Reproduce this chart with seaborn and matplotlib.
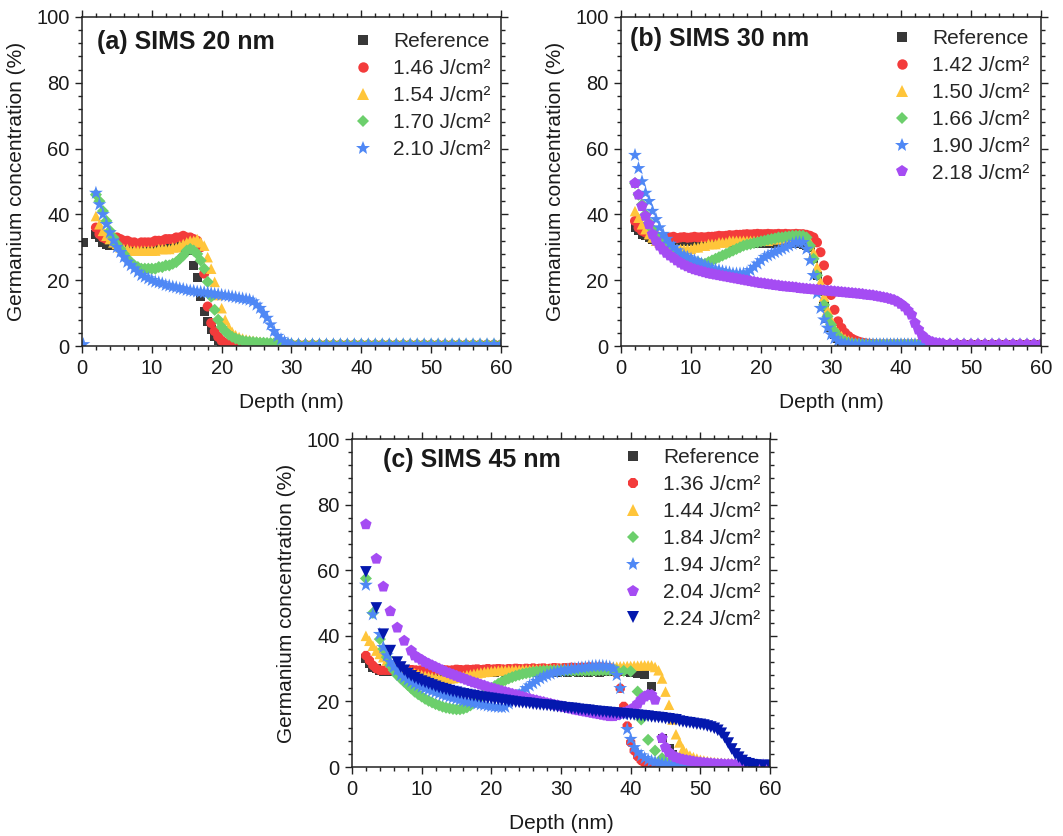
import numpy as np
import pandas as pd
import matplotlib
matplotlib.use("Agg")
import matplotlib.pyplot as plt
from matplotlib.lines import Line2D
from matplotlib.ticker import MultipleLocator
import seaborn as sns

nan = np.nan

# ---------------- Panel (a): SIMS 20 nm ----------------
DEPTH_A = [0.2,
    2.0, 2.5, 3.0, 3.5, 4.0, 4.5, 5.0, 5.5, 6.0, 6.5,
    7.0, 7.5, 8.0, 8.5, 9.0, 9.5, 10.0, 10.5, 11.0, 11.5,
    12.0, 12.5, 13.0, 13.5, 14.0, 14.5, 15.0, 15.5, 16.0, 16.5,
    17.0, 17.5, 18.0, 18.5, 19.0, 19.5, 20.0, 20.5, 21.0, 21.5,
    22.0, 22.5, 23.0, 23.5, 24.0, 24.5, 25.0, 25.5, 26.0, 26.5,
    27.0, 27.5, 28.0, 28.5, 29.0, 29.5, 30.0,
    31, 32, 33, 34, 35, 36, 37, 38, 39, 40,
    41, 42, 43, 44, 45, 46, 47, 48, 49, 50,
    51, 52, 53, 54, 55, 56, 57, 58, 59, 60]
LABELS_A = ["Reference", "1.46 J/cm²", "1.54 J/cm²", "1.70 J/cm²", "2.10 J/cm²"]
REF_A = [31.5,
    34, 33, 31.5, 31, 30.5, 30.5, 30.5, 30.5, 30.5, 30.5,
    30.5, 30.5, 30.5, 30.5, 30.5, 30.5, 30.5, 30.5, 30.5, 30.5,
    30.5, 30.5, 30.5, 30.5, 30.5, 30, 29.5, 29, 24.5, 20.7,
    15, 10.5, 7.5, 5, 3, 1.8, 1, 0.5, 0.3, 0.3,
    0.3, 0.3, 0.3, 0.3, 0.3, 0.3, 0.3, 0.3, 0.3, 0.3,
    0.3, 0.3, 0.3, 0.3, 0.3, 0.3, 0.3,
    0.3, 0.3, 0.3, 0.3, 0.3, 0.3, 0.3, 0.3, 0.3, 0.3,
    0.3, 0.3, 0.3, 0.3, 0.3, 0.3, 0.3, 0.3, 0.3, 0.3,
    0.3, 0.3, 0.3, 0.3, 0.3, 0.3, 0.3, 0.3, 0.3, 0.3]
F146_A = [nan,
    36, 34, 33, 32.5, 32.5, 32.5, 33, 32.5, 32, 32,
    31.5, 31.5, 31, 31.5, 31.5, 31.5, 31.5, 32, 32, 32,
    32.5, 32.5, 32.5, 33, 33, 33.5, 33, 33, 32.5, 32,
    30, 22, 12, 7, 4.5, 2.8, 1.6, 0.9, 0.5, 0.4,
    0.4, 0.4, 0.4, 0.4, 0.4, 0.4, 0.4, 0.4, 0.4, 0.4,
    0.4, 0.4, 0.4, 0.4, 0.4, 0.4, 0.4,
    0.4, 0.4, 0.4, 0.4, 0.4, 0.4, 0.4, 0.4, 0.4, 0.4,
    0.4, 0.4, 0.4, 0.4, 0.4, 0.4, 0.4, 0.4, 0.4, 0.4,
    0.4, 0.4, 0.4, 0.4, 0.4, 0.4, 0.4, 0.4, 0.4, 0.4]
F154_A = [nan,
    39.5, 37, 35, 33.5, 32.5, 31.5, 31, 30, 29.5, 29.5,
    29, 29, 29, 29, 29, 29, 29, 29, 29.5, 29.5,
    29.5, 29.5, 30, 30, 30.5, 31, 31.5, 32, 32, 32.5,
    31.5, 30.5, 27, 23.5, 19.5, 15.5, 11.5, 8, 5.8, 4.3,
    3.3, 2.7, 2.3, 2, 1.8, 1.6, 1.4, 1.3, 1.1, 1,
    0.9, 0.8, 0.7, 0.7, 0.6, 0.6, 0.6,
    0.6, 0.6, 0.6, 0.6, 0.6, 0.6, 0.6, 0.6, 0.6, 0.6,
    0.6, 0.6, 0.6, 0.6, 0.6, 0.6, 0.6, 0.6, 0.6, 0.6,
    0.6, 0.6, 0.6, 0.6, 0.6, 0.6, 0.6, 0.6, 0.6, 0.6]
F170_A = [nan,
    46, 44, 41, 38, 35, 33, 31, 29.5, 28, 26.5,
    25.5, 24.5, 24, 23.5, 23.5, 23.5, 23.5, 23.5, 24, 24,
    24.5, 24.5, 25, 25.5, 26.5, 27.5, 29, 29.5, 29, 28,
    26, 23.5, 19.5, 15, 11, 8, 5.8, 4.5, 3.5, 2.8,
    2.3, 1.9, 1.6, 1.4, 1.3, 1.2, 1.1, 1, 1, 0.9,
    0.9, 0.8, 0.8, 0.7, 0.7, 0.6, 0.6,
    0.5, 0.5, 0.5, 0.5, 0.5, 0.5, 0.5, 0.5, 0.5, 0.5,
    0.5, 0.5, 0.5, 0.5, 0.5, 0.5, 0.5, 0.5, 0.5, 0.5,
    0.5, 0.5, 0.5, 0.5, 0.5, 0.5, 0.5, 0.5, 0.5, 0.5]
F210_A = [0.5,
    46.5, 43, 40, 37, 34.5, 32, 30, 28.5, 27, 25.5,
    24.5, 23.5, 22.5, 21.5, 21, 20.5, 20, 19.5, 19.3, 19,
    18.5, 18.3, 18, 17.8, 17.5, 17.3, 17, 16.8, 16.7, 16.5,
    16.4, 16.3, 16.2, 16, 15.8, 15.7, 15.5, 15.3, 15.2, 15,
    14.8, 14.6, 14.4, 14.2, 14, 13.5, 12.5, 11.5, 10, 8.5,
    6.5, 4.5, 3, 2, 1.3, 0.8, 0.6,
    0.5, 0.5, 0.5, 0.5, 0.5, 0.5, 0.5, 0.5, 0.5, 0.5,
    0.5, 0.5, 0.5, 0.5, 0.5, 0.5, 0.5, 0.5, 0.5, 0.5,
    0.5, 0.5, 0.5, 0.5, 0.5, 0.5, 0.5, 0.5, 0.5, 0.5]

# ---------------- Panel (b): SIMS 30 nm ----------------
DEPTH_B = [
    2.0, 2.5, 3.0, 3.5, 4.0, 4.5, 5.0, 5.5, 6.0, 6.5,
    7.0, 7.5, 8.0, 8.5, 9.0, 9.5, 10.0, 10.5, 11.0, 11.5,
    12.0, 12.5, 13.0, 13.5, 14.0, 14.5, 15.0, 15.5, 16.0, 16.5,
    17.0, 17.5, 18.0, 18.5, 19.0, 19.5, 20.0, 20.5, 21.0, 21.5,
    22.0, 22.5, 23.0, 23.5, 24.0, 24.5, 25.0, 25.5, 26.0, 26.5,
    27.0, 27.5, 28.0, 28.5, 29.0, 29.5, 30.0, 30.5, 31.0, 31.5,
    32.0, 32.5, 33.0, 33.5, 34.0, 34.5, 35.0, 35.5, 36.0, 36.5,
    37.0, 37.5, 38.0, 38.5, 39.0, 39.5, 40.0, 40.5, 41.0, 41.5,
    42.0, 42.5, 43.0, 43.5, 44.0, 44.5, 45.0, 45.5, 46.0,
    47, 48, 49, 50, 51, 52, 53, 54, 55, 56, 57, 58, 59, 60]
LABELS_B = ["Reference", "1.42 J/cm²", "1.50 J/cm²", "1.66 J/cm²", "1.90 J/cm²", "2.18 J/cm²"]
REF_B = [
    36, 35, 34, 33.5, 33, 32.5, 32.5, 32, 32, 32,
    32, 32, 32, 32, 31.8, 31.8, 31.8, 31.8, 31.7, 31.7,
    31.7, 31.6, 31.6, 31.6, 31.5, 31.5, 31.5, 31.5, 31.4, 31.4,
    31.4, 31.4, 31.3, 31.3, 31.3, 31.3, 31.3, 31.3, 31.3, 31.3,
    31.3, 31.3, 31.3, 31.3, 31.3, 31.3, 31.3, 31.2, 31, 30.5,
    30, 26.5, 21.5, 16.5, 12, 8.5, 5.5, 3.5, 2.2, 1.3,
    0.8, 0.5, 0.4, 0.4, 0.4, 0.4, 0.4, 0.4, 0.4, 0.4,
    0.4, 0.4, 0.4, 0.4, 0.4, 0.4, 0.4, 0.4, 0.4, 0.4,
    0.4, 0.4, 0.4, 0.4, 0.4, 0.4, 0.4, 0.4, 0.4,
    0.4, 0.4, 0.4, 0.4, 0.4, 0.4, 0.4, 0.4, 0.4, 0.4, 0.4, 0.4, 0.4, 0.4]
F142_B = [
    38, 36, 35, 34.5, 34, 33.5, 33.5, 33, 33, 33,
    33, 33.2, 32.8, 33, 33.1, 32.9, 33, 33.2, 33, 33.1,
    33, 33.2, 33.2, 33.3, 33.5, 33.4, 33.5, 33.7, 33.6, 33.8,
    33.8, 33.9, 34, 33.9, 34, 34.1, 34, 34, 34.1, 34,
    34, 34.1, 34, 34.1, 34, 34, 34.1, 34, 34, 33.8,
    33.5, 33, 31.5, 28.5, 24.5, 20, 15.5, 11, 7.5, 5.5,
    4, 3, 2.2, 1.7, 1.3, 1, 0.8, 0.7, 0.6, 0.5,
    0.5, 0.5, 0.5, 0.5, 0.5, 0.5, 0.5, 0.5, 0.5, 0.5,
    0.5, 0.5, 0.5, 0.5, 0.5, 0.5, 0.5, 0.5, 0.5,
    0.5, 0.5, 0.5, 0.5, 0.5, 0.5, 0.5, 0.5, 0.5, 0.5, 0.5, 0.5, 0.5, 0.5]
F150_B = [
    41, 39, 37, 35.5, 34, 33, 32, 31.5, 31, 30.5,
    30, 30, 29.5, 29.5, 29.5, 29.5, 29.5, 30, 30, 30.5,
    30.5, 31, 31, 31, 31.5, 31.5, 31.5, 32, 32, 32,
    32, 32, 32, 32, 32, 32, 32, 32, 32, 32.5,
    32.5, 32.5, 32.5, 33, 33, 33, 33.5, 33.5, 33.5, 33,
    31.5, 28.5, 24, 19.5, 15, 11, 8, 5.5, 4, 3,
    2.2, 1.7, 1.3, 1, 0.9, 0.8, 0.7, 0.6, 0.6, 0.6,
    0.6, 0.6, 0.6, 0.6, 0.6, 0.6, 0.6, 0.6, 0.6, 0.6,
    0.6, 0.6, 0.6, 0.6, 0.6, 0.6, 0.6, 0.6, 0.6,
    0.6, 0.6, 0.6, 0.6, 0.6, 0.6, 0.6, 0.6, 0.6, 0.6, 0.6, 0.6, 0.6, 0.6]
F166_B = [
    49.5, 46, 43, 40, 37.5, 35.5, 33.5, 32, 31, 30,
    29.5, 28.5, 28, 27.5, 27, 26.5, 26, 25.5, 25.5, 25,
    25, 25.5, 26, 26.5, 27, 27.5, 28, 28.5, 29, 29.5,
    30, 30.5, 30.8, 31, 31.3, 31.5, 31.8, 32, 32.3, 32.5,
    32.7, 33, 33, 33.2, 33.3, 33.5, 33.5, 33.5, 33.5, 33,
    30.5, 26.5, 21.5, 17, 12.5, 9, 6.5, 4.5, 3, 2,
    1.4, 1, 0.8, 0.7, 0.6, 0.6, 0.5, 0.5, 0.5, 0.5,
    0.5, 0.5, 0.5, 0.5, 0.5, 0.5, 0.5, 0.5, 0.5, 0.5,
    0.5, 0.5, 0.5, 0.5, 0.5, 0.5, 0.5, 0.5, 0.5,
    0.5, 0.5, 0.5, 0.5, 0.5, 0.5, 0.5, 0.5, 0.5, 0.5, 0.5, 0.5, 0.5, 0.5]
F190_B = [
    58, 54, 50, 46.5, 44, 41, 38.5, 36, 34, 32.5,
    31, 30, 29, 28, 27.5, 27, 26.5, 26, 25.5, 25,
    24.5, 24, 23.5, 23.2, 23, 22.7, 22.5, 22.3, 22, 22,
    22, 22, 22.3, 23, 24, 25, 26, 27, 27.5, 28,
    28.5, 29, 29.5, 30, 30.5, 31, 31.5, 31.5, 31.5, 29.5,
    26, 21.5, 16, 11.5, 8, 5.5, 3.5, 2.3, 1.5, 1,
    0.7, 0.6, 0.5, 0.5, 0.5, 0.5, 0.5, 0.5, 0.5, 0.5,
    0.5, 0.5, 0.5, 0.5, 0.5, 0.5, 0.5, 0.5, 0.5, 0.5,
    0.5, 0.5, 0.5, 0.5, 0.5, 0.5, 0.5, 0.5, 0.5,
    0.5, 0.5, 0.5, 0.5, 0.5, 0.5, 0.5, 0.5, 0.5, 0.5, 0.5, 0.5, 0.5, 0.5]
F218_B = [
    49.5, 46, 42.5, 39.5, 37, 34, 32, 30.5, 29.3, 28.3,
    27.5, 26.8, 26, 25.3, 24.7, 24.2, 23.7, 23.3, 23, 22.7,
    22.4, 22.1, 21.9, 21.7, 21.5, 21.3, 21.1, 20.9, 20.7, 20.5,
    20.3, 20.1, 19.9, 19.7, 19.5, 19.3, 19.1, 19, 18.8, 18.7,
    18.5, 18.4, 18.2, 18.1, 18, 17.9, 17.8, 17.6, 17.5, 17.4,
    17.3, 17.2, 17.1, 17, 16.9, 16.8, 16.7, 16.6, 16.5, 16.4,
    16.3, 16.2, 16.1, 16, 15.9, 15.8, 15.6, 15.5, 15.4, 15.2,
    15, 14.8, 14.6, 14.3, 14, 13.5, 12.8, 12, 10.8, 9.5,
    7, 5, 3.3, 2.3, 1.6, 1.2, 0.9, 0.8, 0.7,
    0.6, 0.6, 0.5, 0.5, 0.5, 0.5, 0.5, 0.5, 0.5, 0.5, 0.5, 0.5, 0.5, 0.5]

# ---------------- Panel (c): SIMS 45 nm ----------------
DEPTH_C = [
    2.0, 2.5, 3.0, 3.5, 4.0, 4.5, 5.0, 5.5, 6.0, 6.5,
    7.0, 7.5, 8.0, 8.5, 9.0, 9.5, 10.0, 10.5, 11.0, 11.5,
    12.0, 12.5, 13.0, 13.5, 14.0, 14.5, 15.0, 15.5, 16.0, 16.5,
    17.0, 17.5, 18.0, 18.5, 19.0, 19.5, 20.0, 20.5, 21.0, 21.5,
    22.0, 22.5, 23.0, 23.5, 24.0, 24.5, 25.0, 25.5, 26.0, 26.5,
    27.0, 27.5, 28.0, 28.5, 29.0, 29.5, 30.0, 30.5, 31.0, 31.5,
    32.0, 32.5, 33.0, 33.5, 34.0, 34.5, 35.0, 35.5, 36.0, 36.5,
    37.0, 37.5, 38.0, 38.5, 39.0, 39.5, 40.0, 40.5, 41.0, 41.5,
    42.0, 42.5, 43.0, 43.5, 44.0, 44.5, 45.0, 45.5, 46.0, 46.5,
    47.0, 47.5, 48.0, 48.5, 49.0, 49.5, 50.0, 50.5, 51.0, 51.5,
    52.0, 52.5, 53.0, 53.5, 54.0, 54.5, 55.0, 55.5, 56.0, 56.5,
    57.0, 57.5, 58.0, 59, 60]
LABELS_C = ["Reference", "1.36 J/cm²", "1.44 J/cm²", "1.84 J/cm²", "1.94 J/cm²",
            "2.04 J/cm²", "2.24 J/cm²"]
REF_C = [
    33, 31.5, 30.5, 30, 29.5, 29, 29, 29, 29, 29,
    29, 28.9, 29, 28.9, 29, 29, 28.9, 29, 29, 28.9,
    29, 29, 28.9, 29, 29, 28.9, 29, 29, 28.9, 29,
    29, 28.9, 29, 29, 28.9, 29, 29, 28.9, 29, 29,
    28.9, 29, 29, 28.9, 29, 29, 28.9, 29, 29, 28.9,
    29, 29, 28.9, 29, 29, 28.9, 29, 29, 28.9, 29,
    29, 28.9, 29, 29, 28.9, 29, 29, 28.9, 29, 29,
    29, 29, 29, 29, 29, 29, 28.8, 28.8, 28.6, 28.5,
    28.3, nan, 24.5, nan, nan, 8.6, nan, 5.5, 3.7, 2.3,
    1.6, 1.2, 0.9, 0.7, 0.5, 0.5, 0.5, 0.5, 0.5, 0.5,
    0.5, 0.5, 0.5, 0.5, 0.5, 0.5, 0.5, 0.5, 0.5, 0.5,
    0.5, 0.5, 0.5, 0.5, 0.5]
F136_C = [
    34, 32.5, 31, 30, 29.5, 29.5, 29.5, 29.5, 29.6, 29.5,
    29.5, 29.6, 29.5, 29.7, 29.6, 29.5, 29.6, 29.7, 29.5, 29.6,
    29.6, 29.5, 29.7, 29.6, 29.5, 29.6, 29.8, 29.7, 29.6, 29.8,
    29.7, 29.8, 29.9, 29.7, 29.8, 30, 29.8, 29.9, 30, 29.9,
    29.8, 30, 29.9, 30.1, 30, 29.9, 30.1, 30, 30.2, 30,
    30.1, 30.2, 30, 30.1, 30.3, 30.2, 30.1, 30.3, 30.2, 30.4,
    30.3, 30.2, 30.4, 30.3, 30.5, 30.4, 30.3, 30.5, 30.4, 30.3,
    30.2, 29.8, 28.5, 24, 18.5, 12.5, 7.5, 5, 3.2, 2,
    1.2, 0.8, 0.6, 0.5, 0.5, 0.5, 0.5, 0.5, 0.5, 0.5,
    0.5, 0.5, 0.5, 0.5, 0.5, 0.5, 0.5, 0.5, 0.5, 0.5,
    0.5, 0.5, 0.5, 0.5, 0.5, 0.5, 0.5, 0.5, 0.5, 0.5,
    0.5, 0.5, 0.5, 0.5, 0.5]
F144_C = [
    40, 38.5, 37, 35.5, 34.5, 33.5, 32.5, 32, 31.5, 31,
    30.5, 30, 29.5, 29, 28.6, 28.3, 28, 27.8, 27.6, 27.4,
    27.2, 27.1, 27, 27, 27, 27.1, 27.3, 27.5, 27.7, 28,
    28.2, 28.4, 28.6, 28.8, 29, 29.1, 29.2, 29.3, 29.4, 29.5,
    29.5, 29.5, 29.6, 29.6, 29.6, 29.7, 29.7, 29.7, 29.8, 29.8,
    29.8, 29.8, 29.9, 29.9, 29.9, 30, 30, 30, 30, 30.1,
    30.1, 30.1, 30.2, 30.2, 30.2, 30.3, 30.3, 30.4, 30.4, 30.5,
    30.5, 30.6, 30.6, 30.7, 30.7, 30.8, 30.8, 30.9, 30.9, 31,
    31, 31, 31, 30.5, 29.5, 27, 23, 19, 14.5, 10,
    7.5, 5.5, 4.3, 3.5, 3, 2.6, 2.2, 2, 1.8, 1.6,
    1.5, 1.4, 1.3, 1.2, 1.2, 1.1, 1.1, 1, 1, 1,
    0.9, 0.9, 0.9, 0.8, 0.8]
F184_C = [
    57.5, nan, 47, nan, 39, 36, 33.5, 31, 29.5, 28,
    27, 26, 25, 24, 23, 22.2, 21.5, 20.8, 20.2, 19.7,
    19.2, 18.8, 18.4, 18.1, 17.9, 17.7, 17.6, 17.6, 17.8, 18.2,
    18.8, 19.6, 20.5, 21.4, 22.3, 23.2, 24, 24.7, 25.4, 26,
    26.5, 27, 27.4, 27.8, 28.1, 28.4, 28.6, 28.8, 29, 29.1,
    29.2, 29.3, 29.3, 29.4, 29.4, 29.4, 29.4, 29.4, 29.4, 29.4,
    29.4, 29.4, 29.4, 29.4, 29.4, 29.4, 29.4, 29.5, 29.5, 29.5,
    29.5, 29.5, 29.4, nan, 29.3, nan, 29.2, nan, 23, 14.5,
    nan, 8.3, nan, 5, nan, 2.7, nan, 1.5, 1, 0.8,
    0.7, 0.6, 0.6, 0.6, 0.5, 0.5, 0.5, 0.5, 0.5, 0.5,
    0.5, 0.5, 0.5, 0.5, 0.5, 0.5, 0.5, 0.5, 0.5, 0.5,
    0.5, 0.5, 0.5, 0.5, 0.5]
F194_C = [
    55.5, nan, 46.5, nan, 40.5, 36.5, 34, 32, 30.5, 29.5,
    28, 27.3, 26.6, 26, 25.4, 24.9, 24.4, 24, 23.6, 23.2,
    22.8, 22.4, 22, 21.7, 21.4, 21.1, 20.8, 20.5, 20.2, 20,
    19.8, 19.5, 19.3, 19.1, 18.9, 18.7, 18.5, 18.4, 18.3, 18.2,
    18.3, 19.3, 20.5, 21.3, 22, 23, 24, 24.8, 25.5, 26.2,
    27, 27.5, 28, 28.4, 28.8, 29.1, 29.3, 29.5, 29.7, 29.9,
    30, 30.2, 30.3, 30.4, 30.6, 30.7, 30.8, 30.8, 30.8, 30.7,
    30.5, 30, 28, 24, 16, 11.5, 8.5, 6, 4.5, 3.5,
    2.7, 2.2, 1.8, 1.5, 1.2, 1, 0.9, 0.8, 0.7, 0.6,
    0.6, 0.6, 0.5, 0.5, 0.5, 0.5, 0.5, 0.5, 0.5, 0.5,
    0.5, 0.5, 0.5, 0.5, 0.5, 0.5, 0.5, 0.5, 0.5, 0.5,
    0.5, 0.5, 0.5, 0.5, 0.5]
F204_C = [
    74, nan, nan, 63.5, nan, 55, nan, 47.5, nan, 42.5,
    nan, 38.5, nan, 35.5, 34, 33.3, 32.7, 32, 31.5, 31,
    30.5, 30, 29.5, 29, 28.6, 28.2, 27.8, 27.4, 27, 26.6,
    26.2, 25.8, 25.5, 25.1, 24.8, 24.4, 24.1, 23.8, 23.5, 23.2,
    22.9, 22.6, 22.3, 22, 21.7, 21.4, 21.1, 20.8, 20.5, 20.3,
    20, 19.8, 19.5, 19.3, 19, 18.8, 18.5, 18.3, 18, 17.8,
    17.5, 17.3, 17.1, 16.9, 16.7, 16.5, 16.3, 16.1, 15.9, 15.7,
    15.5, 15.5, 15.8, 16.3, 16.6, 17, 17.5, 18.2, 19.3, 20.5,
    21.5, 22, 22, 20.5, nan, 8.8, 6, 4.5, 3.5, 3,
    2.6, 2.3, 2.1, 1.9, 1.7, 1.5, 1.4, 1.3, 1.2, 1.1,
    1, 0.9, 0.9, 0.8, 0.8, 0.8, 0.7, 0.7, 0.7, 0.7,
    0.6, 0.6, 0.6, 0.6, 0.6]
F224_C = [
    59.5, nan, nan, 48.5, nan, 40.5, nan, 35.5, nan, 32,
    30.5, 29.5, 28.5, 27.8, 27.2, 26.7, 26.2, 25.8, 25.4, 25,
    24.6, 24.2, 23.9, 23.6, 23.3, 23, 22.8, 22.5, 22.3, 22.1,
    21.9, 21.7, 21.5, 21.3, 21.2, 21, 20.9, 20.7, 20.6, 20.4,
    20.3, 20.1, 20, 19.8, 19.7, 19.6, 19.5, 19.4, 19.2, 19.1,
    19, 18.9, 18.8, 18.7, 18.5, 18.4, 18.3, 18.1, 18, 17.9,
    17.8, 17.6, 17.5, 17.4, 17.3, 17.1, 17, 16.9, 16.8, 16.7,
    16.6, 16.5, 16.4, 16.3, 16.2, 16.1, 16, 15.9, 15.8, 15.7,
    15.6, 15.5, 15.3, 15.2, 15.1, 15, 14.8, 14.7, 14.5, 14.4,
    14, 13.8, 13.6, 13.5, 13.3, 13.1, 13, 12.8, 12.5, 12.2,
    11.8, 11.2, 10.3, 9, 7.3, 5.5, 4, 3, 2, 1.3,
    1, 0.7, 0.6, 0.5, 0.5]

# ---------------- styling ----------------
COLORS = ["#383838", "#F33B3B", "#FFC53A", "#6CCF6C", "#4F88F5", "#A54CF3", "#0418AE"]
sns.set_theme(style="ticks")
plt.rcParams["font.family"] = ["Liberation Sans", "DejaVu Sans"]

fig = plt.figure(figsize=(10.63, 8.36), dpi=100)
ax_a = fig.add_axes([0.0771, 0.5861, 0.3942, 0.3936])
ax_b = fig.add_axes([0.5842, 0.5861, 0.3951, 0.3936])
ax_c = fig.add_axes([0.3311, 0.0825, 0.3933, 0.3923])


def draw_panel(ax, depth, series, labels, markers, sizes, leg_sizes, colors, title,
               title_xy, leg_xy):
    for vals, lab, mk, sz, col in zip(series, labels, markers, sizes, colors):
        df = pd.DataFrame({"depth": depth, "conc": vals})
        sns.scatterplot(data=df, x="depth", y="conc", ax=ax, marker=mk, s=sz,
                        color=col, linewidth=0, edgecolor="none", legend=False)
    ax.set_xlim(0, 60)
    ax.set_ylim(0, 100)
    ax.xaxis.set_major_locator(MultipleLocator(10))
    ax.xaxis.set_minor_locator(MultipleLocator(2))
    ax.yaxis.set_major_locator(MultipleLocator(20))
    ax.yaxis.set_minor_locator(MultipleLocator(4))
    ax.tick_params(which="both", direction="out", top=True, right=True,
                   labeltop=False, labelright=False, color="#222222", width=1.0)
    ax.tick_params(which="major", length=5, labelsize=14.5, pad=4, labelcolor="#1a1a1a")
    ax.tick_params(which="minor", length=3)
    for sp in ax.spines.values():
        sp.set_visible(True)
        sp.set_linewidth(1.1)
        sp.set_color("#222222")
    ax.set_xlabel("Depth (nm)", fontsize=15, color="#1a1a1a", labelpad=11)
    ax.set_ylabel("Germanium concentration (%)", fontsize=15, color="#1a1a1a", labelpad=7)
    ax.text(title_xy[0], title_xy[1], title, transform=ax.transAxes, ha="left",
            va="center", fontsize=18, fontweight="bold", color="#1a1a1a")
    handles = [Line2D([], [], linestyle="none", marker=mk, markersize=ms,
                      markerfacecolor=col, markeredgewidth=0, color=col)
               for mk, ms, col in zip(markers, leg_sizes, colors)]
    ax.legend(handles, labels, loc="upper left", bbox_to_anchor=leg_xy, frameon=False,
              fontsize=15, handlelength=1.0, handletextpad=0.95, labelspacing=0.38,
              borderpad=0, borderaxespad=0)


MK = ["s", "o", "^", "D", "*", "p", "v"]
SZ = [42, 52, 58, 38, 110, 75, 70]
LSZ = [6.5, 7.5, 8.0, 6.5, 10.0, 8.5, 8.5]

draw_panel(ax_a, DEPTH_A, [REF_A, F146_A, F154_A, F170_A, F210_A], LABELS_A,
           MK[:5], SZ[:5], LSZ[:5], COLORS[:5], "(a) SIMS 20 nm", (0.036, 0.925),
           (0.646, 0.953))
draw_panel(ax_b, DEPTH_B, [REF_B, F142_B, F150_B, F166_B, F190_B, F218_B], LABELS_B,
           MK[:6], SZ[:6], LSZ[:6], COLORS[:6], "(b) SIMS 30 nm", (0.022, 0.933),
           (0.644, 0.963))
draw_panel(ax_c, DEPTH_C, [REF_C, F136_C, F144_C, F184_C, F194_C, F204_C, F224_C], LABELS_C,
           ["s", "8", "^", "D", "*", "p", "v"], SZ, LSZ, COLORS, "(c) SIMS 45 nm",
           (0.074, 0.936), (0.648, 0.972))

fig.savefig("out.png", dpi=100)
